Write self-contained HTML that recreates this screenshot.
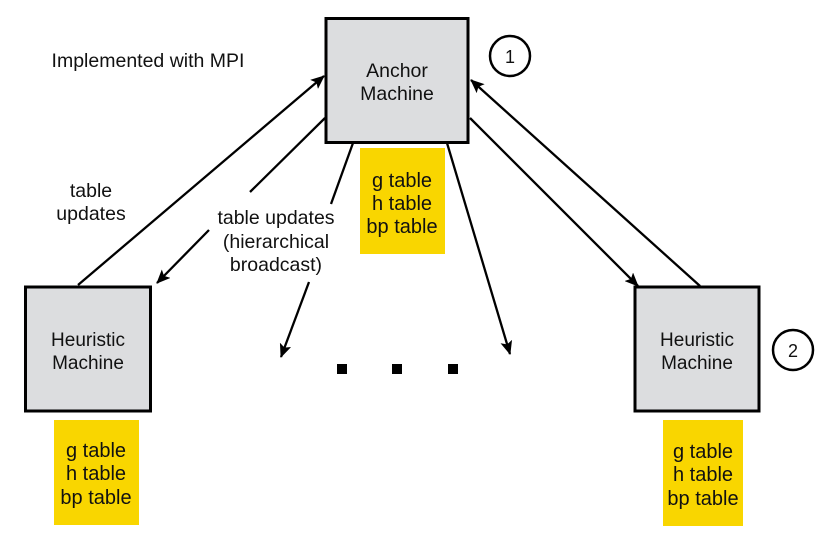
<!DOCTYPE html>
<html><head><style>
body{margin:0;background:#fff;}
svg{display:block;font-family:"Liberation Sans",Arial,sans-serif;}
</style></head><body>
<svg width="831" height="542" viewBox="0 0 831 542" xmlns="http://www.w3.org/2000/svg">
<defs>
<marker id="b" markerWidth="14" markerHeight="12" refX="13" refY="6" orient="auto" markerUnits="userSpaceOnUse" viewBox="0 0 14 12"><path d="M0,0 L14,6 L0,12 L3,6 z" fill="#000"/></marker></defs>
<rect x="326" y="18.5" width="142" height="124" fill="#dcdddf" stroke="#000" stroke-width="3"/>
<rect x="25.5" y="287" width="125" height="124" fill="#dcdddf" stroke="#000" stroke-width="3"/>
<rect x="635" y="287" width="124" height="124" fill="#dcdddf" stroke="#000" stroke-width="3"/>
<rect x="360" y="148" width="85" height="106" fill="#f9d600"/>
<rect x="54" y="420" width="85" height="105" fill="#f9d600"/>
<rect x="663" y="420" width="80" height="106" fill="#f9d600"/>
<circle cx="510" cy="56" r="20" fill="none" stroke="#000" stroke-width="2.5"/>
<circle cx="793" cy="350" r="20" fill="none" stroke="#000" stroke-width="2.5"/>
<g stroke="#000" stroke-width="2.3" fill="none">
<line x1="78" y1="285" x2="324" y2="76" marker-end="url(#b)"/>
<line x1="325" y1="118" x2="250" y2="192"/>
<line x1="209" y1="230" x2="157" y2="283" marker-end="url(#b)"/>
<line x1="353" y1="143" x2="331" y2="204"/>
<line x1="309" y1="282" x2="281" y2="357" marker-end="url(#b)"/>
<line x1="447" y1="143" x2="510" y2="354" marker-end="url(#b)"/>
<line x1="470" y1="118" x2="638" y2="286" marker-end="url(#b)"/>
<line x1="700" y1="286" x2="471" y2="80" marker-end="url(#b)"/>
</g>
<rect x="337" y="364" width="10" height="10" fill="#000"/>
<rect x="392" y="364" width="10" height="10" fill="#000"/>
<rect x="448" y="364" width="10" height="10" fill="#000"/>
<g font-size="19.5" fill="#111" text-anchor="middle">
<text x="397" y="77">Anchor</text><text x="397" y="100">Machine</text>
<text x="88" y="346" font-size="19">Heuristic</text><text x="88" y="369" font-size="19">Machine</text>
<text x="697" y="346" font-size="19">Heuristic</text><text x="697" y="369" font-size="19">Machine</text>
<text x="510" y="63" font-size="18">1</text>
<text x="793" y="357" font-size="18">2</text>
<g font-size="20">
<text x="402" y="187">g table</text><text x="402" y="210">h table</text><text x="402" y="233">bp table</text>
<text x="96" y="457">g table</text><text x="96" y="480">h table</text><text x="96" y="504">bp table</text>
<text x="703" y="458">g table</text><text x="703" y="481">h table</text><text x="703" y="505">bp table</text>
</g>
<text x="91" y="197">table</text><text x="91" y="220">updates</text>
<text x="276" y="224">table updates</text><text x="276" y="248">(hierarchical</text><text x="276" y="271">broadcast)</text>
<text x="148" y="67">Implemented with MPI</text>
</g>
</svg>
</body></html>
